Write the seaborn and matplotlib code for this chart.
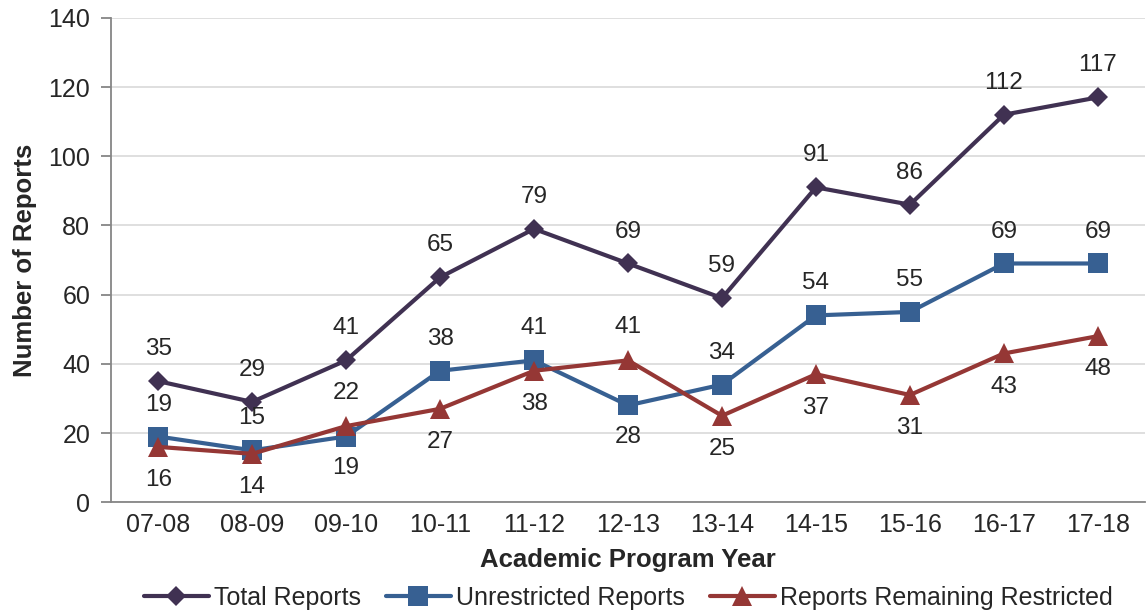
import pandas as pd
import numpy as np
import matplotlib
matplotlib.use("Agg")
import matplotlib.pyplot as plt
import seaborn as sns

# data
years = ["07-08", "08-09", "09-10", "10-11", "11-12", "12-13",
         "13-14", "14-15", "15-16", "16-17", "17-18"]
total = [35, 29, 41, 65, 79, 69, 59, 91, 86, 112, 117]
unrestricted = [19, 15, 19, 38, 41, 28, 34, 54, 55, 69, 69]
restricted = [16, 14, 22, 27, 38, 41, 25, 37, 31, 43, 48]

# +1 label above the point, -1 below
unres_pos = [1, 1, -1, 1, 1, -1, 1, 1, 1, 1, 1]
restr_pos = [-1, -1, 1, -1, -1, 1, -1, -1, -1, -1, -1]

sns.set_style("white")
plt.rcParams["font.family"] = ["Liberation Sans", "DejaVu Sans"]

names = ["Total Reports", "Unrestricted Reports", "Reports Remaining Restricted"]
df = pd.DataFrame({
    "year": years * 3,
    "value": total + unrestricted + restricted,
    "series": sum([[n] * len(years) for n in names], []),
})

colors = {"Total Reports": "#403152", "Unrestricted Reports": "#376092",
          "Reports Remaining Restricted": "#953735"}
markers = {"Total Reports": "D", "Unrestricted Reports": "s",
           "Reports Remaining Restricted": "^"}
msizes = {"Total Reports": 10, "Unrestricted Reports": 14,
          "Reports Remaining Restricted": 14}

fig, ax = plt.subplots(figsize=(11.46, 6.14), dpi=100)
fig.subplots_adjust(left=0.097, right=0.999, top=0.971, bottom=0.182)

for n in names:
    sub = df[df.series == n]
    sns.lineplot(data=sub, x="year", y="value", ax=ax, color=colors[n],
                 marker=markers[n], markersize=msizes[n], linewidth=3,
                 markeredgewidth=0, label=n, sort=False)

lab = dict(textcoords="offset points", ha="center", va="center", fontsize=17.5)
xs = np.arange(len(years))
for i in xs:
    ax.annotate(str(total[i]), (i, total[i]), xytext=(0, 23), **lab)
    ax.annotate(str(unrestricted[i]), (i, unrestricted[i]),
                xytext=(0, 23 * unres_pos[i]), **lab)
    ax.annotate(str(restricted[i]), (i, restricted[i]),
                xytext=(0, 24 * restr_pos[i]), **lab)

ax.set_xlim(-0.5, len(years) - 0.5)
ax.set_ylim(0, 140)
ax.set_yticks(range(0, 141, 20))
ax.yaxis.grid(True, color="#d9d9d9", linewidth=1.2)
ax.set_axisbelow(True)

ax.set_xticks(xs)
ax.set_xticklabels(years)
ax.set_xticks(np.arange(-0.5, len(years)), minor=True)
ax.tick_params(axis="x", which="major", length=0, labelsize=18, pad=8)
ax.tick_params(axis="x", which="minor", length=7, width=1.3, color="#868686", direction="out")
ax.tick_params(axis="y", length=7, width=1.3, color="#868686", labelsize=18, pad=8, direction="out", left=True)

for s in ["top", "right"]:
    ax.spines[s].set_visible(False)
for s in ["left", "bottom"]:
    ax.spines[s].set_color("#868686")
    ax.spines[s].set_linewidth(1.3)

ax.set_xlabel("Academic Program Year", fontsize=18.5, fontweight="bold", labelpad=8)
ax.set_ylabel("Number of Reports", fontsize=18.5, fontweight="bold", labelpad=8)

ax.legend(loc="center", bbox_to_anchor=(0.5, -0.197), ncol=3, frameon=False,
          fontsize=18, handlelength=2.6, handletextpad=0.2, columnspacing=1.0,
          borderaxespad=0)

fig.savefig("out.png", dpi=100)
